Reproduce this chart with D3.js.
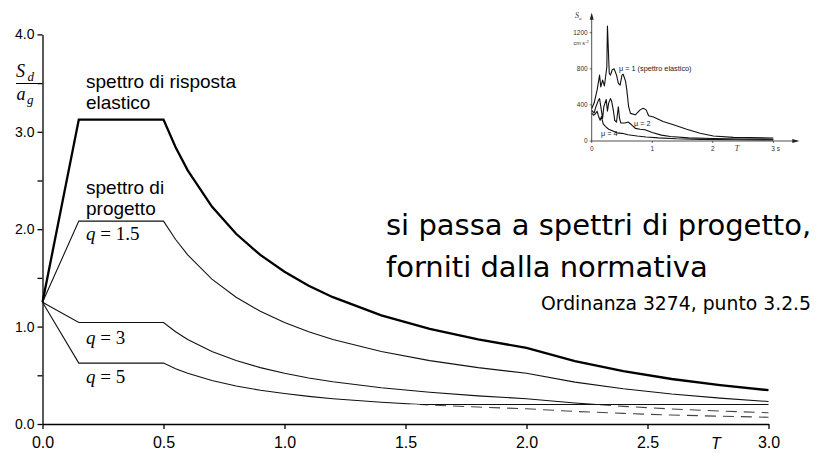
<!DOCTYPE html>
<html>
<head>
<meta charset="utf-8">
<script src="https://cdn.jsdelivr.net/npm/d3@7"></script>
<style>
  body { margin: 0; background: #fff; }
  svg { display: block; }
</style>
</head>
<body>
<svg id="chart"></svg>
<script>
var WIDTH = 833;
var HEIGHT = 453;

// period T (s) at which the spectra are read
var periods = [0, 0.15, 0.5, 0.55, 0.6, 0.7, 0.8, 0.9, 1.0, 1.1, 1.2, 1.4, 1.6, 1.8, 2.0, 2.2, 2.4, 2.6, 2.8, 3.0];
// Sd / ag
var elastic = [1.25, 3.125, 3.125, 2.841, 2.604, 2.232, 1.953, 1.736, 1.563, 1.420, 1.302, 1.116, 0.977, 0.868, 0.781, 0.646, 0.543, 0.462, 0.399, 0.347];
var q15 = [1.25, 2.083, 2.083, 1.894, 1.736, 1.488, 1.302, 1.157, 1.042, 0.947, 0.868, 0.744, 0.651, 0.579, 0.521, 0.430, 0.362, 0.308, 0.266, 0.231];
var q3 = [1.25, 1.042, 1.042, 0.947, 0.868, 0.744, 0.651, 0.579, 0.521, 0.473, 0.434, 0.372, 0.326, 0.289, 0.260, 0.215, 0.181, 0.154, 0.133, 0.116];
var q5 = [1.25, 0.625, 0.625, 0.568, 0.521, 0.446, 0.391, 0.347, 0.313, 0.284, 0.260, 0.223, 0.195, 0.174, 0.156, 0.129, 0.109, 0.092, 0.080, 0.069];
// lower limit of the design spectra (0.2 ag)
var minValue = 0.2;
var minStart = 1.56;

var xTicks = [0, 0.5, 1.0, 1.5, 2.0, 2.5, 3.0];
var yTicks = [0, 0.5, 1.0, 1.5, 2.0, 2.5, 3.0, 3.5, 4.0];

// small recorded spectrum in the corner (Sa in cm/s2)
var recT1 = [0, 0.04, 0.09, 0.13, 0.15, 0.18, 0.21, 0.25, 0.26, 0.29, 0.31, 0.34, 0.37, 0.41, 0.44, 0.47, 0.50, 0.52, 0.56, 0.58, 0.61, 0.64, 0.72, 0.80, 0.85, 0.90, 0.94, 1.02, 1.18, 1.35, 1.57, 1.79, 2.01, 2.34, 3.0];
var recMu1 = [360, 420, 566, 730, 600, 675, 610, 820, 1275, 750, 730, 790, 800, 730, 640, 620, 730, 740, 660, 566, 380, 306, 290, 345, 363, 345, 280, 265, 215, 180, 130, 85, 55, 40, 33];
var recT2 = [0, 0.04, 0.07, 0.11, 0.13, 0.16, 0.18, 0.20, 0.22, 0.24, 0.26, 0.28, 0.31, 0.33, 0.36, 0.38, 0.41, 0.44, 0.46, 0.48, 0.55, 0.60, 0.65, 0.72, 0.80, 0.88, 1.0, 1.15, 1.3, 1.6, 2.0, 2.5, 3.0];
var recMu2 = [340, 310, 380, 450, 470, 340, 250, 380, 420, 460, 330, 420, 470, 440, 330, 230, 210, 380, 250, 200, 200, 210, 185, 140, 130, 125, 95, 65, 50, 35, 28, 22, 20];
var recT4 = [0, 0.03, 0.06, 0.09, 0.11, 0.14, 0.16, 0.19, 0.23, 0.28, 0.35, 0.42, 0.5, 0.6, 0.75, 0.9, 1.1, 1.4, 1.8, 2.4, 3.0];
var recMu4 = [310, 285, 300, 330, 280, 230, 270, 190, 160, 130, 110, 90, 85, 70, 55, 45, 35, 25, 18, 14, 12];
var recXTicks = [0, 1, 2, 3];
var recXLabels = ['0', '1', '2', '3 s'];
var recYTicks = [0, 400, 800, 1200];

var svg = d3.select('#chart')
  .attr('width', WIDTH)
  .attr('height', HEIGHT);

var xScale = d3.scaleLinear().domain([0, 3]).range([42.5, 768.5]);
var yScale = d3.scaleLinear().domain([0, 4]).range([424, 34.4]);

// clip areas above / below the 0.2 limit
var defs = svg.append('defs');
defs.append('clipPath').attr('id', 'above')
  .append('rect')
  .attr('x', 0).attr('y', 0)
  .attr('width', WIDTH).attr('height', yScale(minValue));
defs.append('clipPath').attr('id', 'below')
  .append('rect')
  .attr('x', 0).attr('y', yScale(minValue))
  .attr('width', WIDTH).attr('height', HEIGHT - yScale(minValue));

var line = function(values) {
  return d3.line()
    .x(function(d, i) { return xScale(periods[i]); })
    .y(function(d) { return yScale(d); })(values);
};

// axes
var bottomAxis = d3.axisBottom(xScale)
  .tickValues(xTicks)
  .tickFormat(d3.format('.1f'))
  .tickSize(5)
  .tickSizeOuter(0)
  .tickPadding(8);
var gx = svg.append('g')
  .attr('transform', 'translate(0,' + yScale(0) + ')')
  .call(bottomAxis);
gx.attr('font-family', 'Liberation Sans, Arial, sans-serif').attr('font-size', 16);

var leftAxis = d3.axisLeft(yScale)
  .tickValues(yTicks)
  .tickFormat(function(d) { return d % 1 === 0 ? d3.format('.1f')(d) : ''; })
  .tickSize(5)
  .tickSizeOuter(0)
  .tickPadding(3);
var gy = svg.append('g')
  .attr('transform', 'translate(' + xScale(0) + ',0)')
  .call(leftAxis);
gy.attr('font-family', 'Liberation Sans, Arial, sans-serif').attr('font-size', 14);

svg.selectAll('.domain, .tick line').attr('stroke', '#000').attr('stroke-width', 1.3);

// elastic spectrum
svg.append('path')
  .attr('d', line(elastic))
  .attr('fill', 'none')
  .attr('stroke', '#000')
  .attr('stroke-width', 2.3);

// design spectra: solid above the limit, dashed below it
[q15, q3, q5].forEach(function(values) {
  svg.append('path')
    .attr('d', line(values))
    .attr('clip-path', 'url(#above)')
    .attr('fill', 'none')
    .attr('stroke', '#111')
    .attr('stroke-width', 1.1);
  svg.append('path')
    .attr('d', line(values))
    .attr('clip-path', 'url(#below)')
    .attr('fill', 'none')
    .attr('stroke', '#444')
    .attr('stroke-width', 1.1)
    .attr('stroke-dasharray', '11,7');
});

svg.append('line')
  .attr('x1', xScale(minStart)).attr('x2', xScale(3))
  .attr('y1', yScale(minValue)).attr('y2', yScale(minValue))
  .attr('stroke', '#111')
  .attr('stroke-width', 1.1);

// y axis title Sd / ag
var serif = 'Liberation Serif, Times New Roman, serif';
var yTitle = svg.append('g').attr('font-family', serif).attr('font-style', 'italic');
yTitle.append('text').attr('x', 16).attr('y', 77).attr('font-size', 18).text('S');
yTitle.append('text').attr('x', 27.5).attr('y', 81).attr('font-size', 13).text('d');
yTitle.append('text').attr('x', 16.5).attr('y', 100).attr('font-size', 18).text('a');
yTitle.append('text').attr('x', 27).attr('y', 104).attr('font-size', 13).text('g');
svg.append('line')
  .attr('x1', 16).attr('x2', 38)
  .attr('y1', 83.5).attr('y2', 83.5)
  .attr('stroke', '#000').attr('stroke-width', 1);

svg.append('text')
  .attr('x', 716).attr('y', 449)
  .attr('text-anchor', 'middle')
  .attr('font-family', 'Liberation Sans, Arial, sans-serif')
  .attr('font-style', 'italic')
  .attr('font-size', 16)
  .text('T');

// curve labels
var sans = 'Liberation Sans, Arial, sans-serif';
var labels = svg.append('g').attr('font-family', sans).attr('font-size', 19);
labels.append('text').attr('x', 86).attr('y', 88).text('spettro di risposta');
labels.append('text').attr('x', 86).attr('y', 109).text('elastico');
labels.append('text').attr('x', 86).attr('y', 194).text('spettro di');
labels.append('text').attr('x', 86).attr('y', 215).text('progetto');

var qLabels = [
  { q: '1.5', y: 240 },
  { q: '3', y: 344 },
  { q: '5', y: 383 }
];
qLabels.forEach(function(d) {
  var t = svg.append('text')
    .attr('x', 86).attr('y', d.y)
    .attr('font-family', serif)
    .attr('font-size', 19);
  t.append('tspan').attr('font-style', 'italic').text('q');
  t.append('tspan').text(' = ' + d.q);
});

// side note
var comic = "'DejaVu Sans', sans-serif";
svg.append('text').attr('x', 386).attr('y', 235)
  .attr('font-family', comic).attr('font-size', 29)
  .text('si passa a spettri di progetto,');
svg.append('text').attr('x', 386).attr('y', 277)
  .attr('font-family', comic).attr('font-size', 29)
  .text('forniti dalla normativa');
svg.append('text').attr('x', 811).attr('y', 310)
  .attr('text-anchor', 'end')
  .attr('font-family', comic).attr('font-size', 18.8)
  .text('Ordinanza 3274, punto 3.2.5');

// inset: recorded spectra for different ductility
var inX = d3.scaleLinear().domain([0, 3]).range([591.7, 773.3]);
var inY = d3.scaleLinear().domain([0, 1200]).range([141, 32.7]);
var inset = svg.append('g');

inset.append('line')
  .attr('x1', inX(0)).attr('x2', inX(0))
  .attr('y1', inY(0)).attr('y2', inY(1200) - 18)
  .attr('stroke', '#222').attr('stroke-width', 0.8);
inset.append('path')
  .attr('d', 'M' + (inX(0) - 2) + ',' + (inY(1200) - 13) + 'L' + inX(0) + ',' + (inY(1200) - 20) + 'L' + (inX(0) + 2) + ',' + (inY(1200) - 13) + 'Z')
  .attr('fill', '#222');
inset.append('line')
  .attr('x1', inX(0)).attr('x2', inX(3) + 24)
  .attr('y1', inY(0)).attr('y2', inY(0))
  .attr('stroke', '#222').attr('stroke-width', 0.8);
inset.append('path')
  .attr('d', 'M' + (inX(3) + 19) + ',' + (inY(0) - 2) + 'L' + (inX(3) + 26) + ',' + inY(0) + 'L' + (inX(3) + 19) + ',' + (inY(0) + 2) + 'Z')
  .attr('fill', '#222');

inset.selectAll('.ytick').data(recYTicks).enter().append('line')
  .attr('x1', inX(0) - 2).attr('x2', inX(0))
  .attr('y1', function(d) { return inY(d); })
  .attr('y2', function(d) { return inY(d); })
  .attr('stroke', '#222').attr('stroke-width', 0.7);
inset.selectAll('.ylab').data(recYTicks).enter().append('text')
  .attr('x', inX(0) - 4)
  .attr('y', function(d) { return inY(d) + 2.3; })
  .attr('text-anchor', 'end')
  .attr('font-family', sans).attr('font-size', 6.5).attr('fill', '#333')
  .text(function(d) { return d; });
inset.selectAll('.xtick').data(recXTicks).enter().append('line')
  .attr('x1', function(d) { return inX(d); })
  .attr('x2', function(d) { return inX(d); })
  .attr('y1', inY(0)).attr('y2', inY(0) + 2)
  .attr('stroke', '#222').attr('stroke-width', 0.7);
inset.selectAll('.xlab').data(recXTicks).enter().append('text')
  .attr('x', function(d) { return inX(d); })
  .attr('y', inY(0) + 10)
  .attr('text-anchor', function(d, i) { return i === 3 ? 'start' : 'middle'; })
  .attr('dx', function(d, i) { return i === 3 ? -2 : 0; })
  .attr('font-family', sans).attr('font-size', 6.5).attr('fill', '#333')
  .text(function(d, i) { return recXLabels[i]; });

inset.append('text').attr('x', inX(0) - 3).attr('y', inY(1200) + 12)
  .attr('text-anchor', 'end')
  .attr('font-family', sans).attr('font-size', 5.5).attr('fill', '#333')
  .html('cm s<tspan dy="-2" font-size="4">-2</tspan>');
inset.append('text').attr('x', inX(2.4)).attr('y', inY(0) + 10)
  .attr('text-anchor', 'middle')
  .attr('font-family', serif).attr('font-style', 'italic').attr('font-size', 8).attr('fill', '#333')
  .text('T');
var saLabel = inset.append('text').attr('x', 575).attr('y', 18)
  .attr('font-family', serif).attr('font-style', 'italic').attr('font-size', 8).attr('fill', '#333');
saLabel.append('tspan').text('S');
saLabel.append('tspan').attr('font-size', 5).attr('dy', 1.5).text('a');

var recLine = function(ts, values) {
  return d3.line()
    .x(function(d, i) { return inX(ts[i]); })
    .y(function(d) { return inY(d); })(values);
};
[[recT1, recMu1], [recT2, recMu2], [recT4, recMu4]].forEach(function(s) {
  inset.append('path')
    .attr('d', recLine(s[0], s[1]))
    .attr('fill', 'none')
    .attr('stroke', '#111')
    .attr('stroke-width', 1.1)
    .attr('stroke-linejoin', 'round');
});

var muText = inset.append('g').attr('font-family', sans).attr('font-size', 7.3).attr('fill', '#222');
muText.append('text').attr('x', 619).attr('y', 71).text('\u03bc = 1 (spettro elastico)');
muText.append('text').attr('x', 634).attr('y', 126).text('\u03bc = 2');
muText.append('text').attr('x', 601).attr('y', 136).text('\u03bc = 4');
</script>
</body>
</html>
